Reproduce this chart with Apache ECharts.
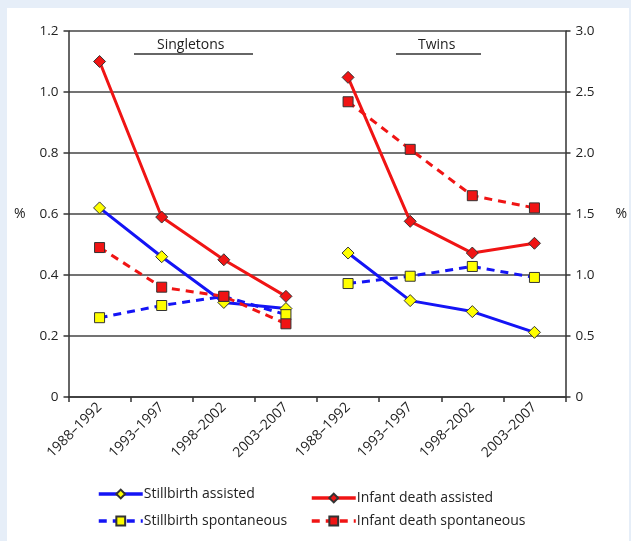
<!DOCTYPE html>
<html>
<head>
<meta charset="utf-8">
<script src="https://cdn.jsdelivr.net/npm/echarts@6/dist/echarts.min.js"></script>
<style>
  html, body { margin: 0; padding: 0; background: #e6eef8; width: 631px; height: 541px; overflow: hidden; }
  #panel { position: absolute; left: 7px; top: 8px; width: 622px; height: 533px; background: #ffffff; }
  #chart { position: absolute; left: 0; top: 0; width: 631px; height: 541px; }
</style>
</head>
<body>
<div id="panel"></div>
<div id="chart"></div>
<script>
// Categories (4 periods for singletons, then 4 for twins)
const categories = ['1988–1992', '1993–1997', '1998–2002', '2003–2007',
                    '1988–1992', '1993–1997', '1998–2002', '2003–2007'];
const groupLabels = ['Singletons', 'Twins'];

// Singletons (left axis, %)
const singStillAssisted   = [0.62, 0.46, 0.31, 0.29];
const singStillSpont      = [0.26, 0.30, 0.33, 0.27];
const singInfantAssisted  = [1.10, 0.59, 0.45, 0.33];
const singInfantSpont     = [0.49, 0.36, 0.33, 0.24];

// Twins (right axis, %)
const twinStillAssisted   = [1.18, 0.79, 0.70, 0.53];
const twinStillSpont      = [0.93, 0.99, 1.07, 0.98];
const twinInfantAssisted  = [2.62, 1.44, 1.18, 1.26];
const twinInfantSpont     = [2.42, 2.03, 1.65, 1.55];

const leftTicks  = { min: 0, max: 1.2, interval: 0.2 };
const rightTicks = { min: 0, max: 3.0, interval: 0.5 };

const FONT = '"Open Sans", "Noto Sans", sans-serif';
const BLUE = '#1414f5';
const RED = '#f01414';

const pad4 = [null, null, null, null];
function sing(a) { return a.concat(pad4); }
function twin(a) { return pad4.concat(a); }

function mk(name, data, axis, color, dashed, symbol, fill) {
  return {
    name: name,
    type: 'line',
    yAxisIndex: axis,
    data: data,
    connectNulls: false,
    symbol: symbol,
    symbolSize: symbol === 'diamond' ? 12 : 10,
    lineStyle: { color: color, width: 3, type: dashed ? [8, 6] : 'solid' },
    itemStyle: { color: fill, borderColor: '#333', borderWidth: 1 },
    emphasis: { disabled: true },
    z: 3
  };
}

const series = [
  mk('Stillbirth assisted', sing(singStillAssisted), 0, BLUE, false, 'diamond', '#ffff00'),
  mk('Stillbirth spontaneous', sing(singStillSpont), 0, BLUE, true, 'rect', '#ffff00'),
  mk('Infant death assisted', sing(singInfantAssisted), 0, RED, false, 'diamond', RED),
  mk('Infant death spontaneous', sing(singInfantSpont), 0, RED, true, 'rect', RED),
  mk('Stillbirth assisted', twin(twinStillAssisted), 1, BLUE, false, 'diamond', '#ffff00'),
  mk('Stillbirth spontaneous', twin(twinStillSpont), 1, BLUE, true, 'rect', '#ffff00'),
  mk('Infant death assisted', twin(twinInfantAssisted), 1, RED, false, 'diamond', RED),
  mk('Infant death spontaneous', twin(twinInfantSpont), 1, RED, true, 'rect', RED)
];

const chart = echarts.init(document.getElementById('chart'), null, { renderer: 'canvas' });

const legendCommon = {
  orient: 'vertical',
  itemWidth: 44,
  itemHeight: 11,
  lineStyle: { width: 3.5 },
  textStyle: { fontFamily: FONT, fontSize: 14, color: '#222', padding: [0, 0, 0, -4] },
  selectedMode: false
};

chart.setOption({
  animation: false,
  textStyle: { fontFamily: FONT },
  grid: { left: 68.5, right: 65.5, top: 31, bottom: 144 },
  legend: [
    Object.assign({ left: 92, top: 482, itemGap: 13, data: ['Stillbirth assisted', 'Stillbirth spontaneous'] }, legendCommon),
    Object.assign({ left: 305, top: 486, itemGap: 9, data: ['Infant death assisted', 'Infant death spontaneous'] }, legendCommon)
  ],
  xAxis: {
    type: 'category',
    data: categories,
    boundaryGap: true,
    axisLine: { lineStyle: { color: '#333', width: 1.5 } },
    axisTick: { show: true, length: 5, lineStyle: { color: '#333', width: 1.5 } },
    axisLabel: { rotate: 45, fontSize: 14, color: '#222', margin: 8, fontFamily: FONT, interval: 0 },
    splitLine: { show: false }
  },
  yAxis: [
    {
      type: 'value',
      min: leftTicks.min, max: leftTicks.max, interval: leftTicks.interval,
      name: '%', nameLocation: 'middle', nameRotate: 0, nameGap: 43,
      nameTextStyle: { fontSize: 14, color: '#222', fontFamily: FONT },
      axisLine: { show: true, lineStyle: { color: '#333', width: 1.5 } },
      axisTick: { show: true, length: 5, lineStyle: { color: '#333', width: 1.5 } },
      axisLabel: { fontSize: 13.5, color: '#222', margin: 10, fontFamily: FONT,
        formatter: v => v === 0 ? '0' : v.toFixed(1) },
      splitLine: { show: true, lineStyle: { color: '#444', width: 1.5 } }
    },
    {
      type: 'value',
      position: 'right',
      min: rightTicks.min, max: rightTicks.max, interval: rightTicks.interval,
      name: '%', nameLocation: 'middle', nameRotate: 0, nameGap: 50,
      nameTextStyle: { fontSize: 14, color: '#222', fontFamily: FONT },
      axisLine: { show: true, lineStyle: { color: '#333', width: 1.5 } },
      axisTick: { show: true, length: 5, lineStyle: { color: '#333', width: 1.5 } },
      axisLabel: { fontSize: 13.5, color: '#222', margin: 10, fontFamily: FONT,
        formatter: v => v === 0 ? '0' : v.toFixed(1) },
      splitLine: { show: false }
    }
  ],
  graphic: [
    { type: 'text', left: 157, top: 38, style: { text: groupLabels[0], fontSize: 14, fill: '#222', fontFamily: FONT } },
    { type: 'line', shape: { x1: 134, y1: 54, x2: 253, y2: 54 }, style: { stroke: '#333', lineWidth: 1.5 } },
    { type: 'text', left: 418, top: 38, style: { text: groupLabels[1], fontSize: 14, fill: '#222', fontFamily: FONT } },
    { type: 'line', shape: { x1: 396, y1: 54, x2: 481, y2: 54 }, style: { stroke: '#333', lineWidth: 1.5 } }
  ],
  series: series
});
</script>
</body>
</html>
